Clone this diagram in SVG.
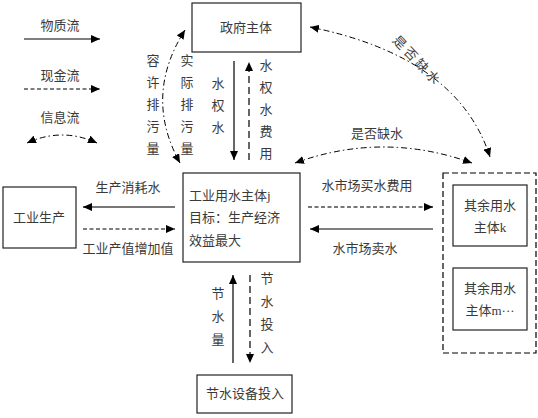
<svg xmlns="http://www.w3.org/2000/svg" width="538" height="418" viewBox="0 0 538 418">
<defs>
<marker id="ah" markerUnits="userSpaceOnUse" markerWidth="10" markerHeight="8" refX="9" refY="4" orient="auto-start-reverse">
<path d="M0,0 L9,4 L0,8 z" fill="#000"/>
</marker>
</defs>
<style>
text{font-family:"Liberation Serif","Noto Sans CJK SC",serif;font-size:13px;fill:#3a3a3a}
.c{text-anchor:middle}
.box{fill:#fff;stroke:#222;stroke-width:1.2}
.s{fill:none;stroke:#000;stroke-width:1.2}
.g{fill:none;stroke:#777;stroke-width:2}
.d{fill:none;stroke:#000;stroke-width:1.2;stroke-dasharray:4 2.5}
.gd{fill:none;stroke:#777;stroke-width:2;stroke-dasharray:4 2.5}
.ld{fill:none;stroke:#000;stroke-width:1.2;stroke-dasharray:7 4}
.dd{fill:none;stroke:#000;stroke-width:1;stroke-dasharray:6 3 1.5 3}
</style>
<rect width="538" height="418" fill="#fff"/>

<g id="legend">
<text class="c" x="60" y="30">物质流</text>
<text class="c" x="60" y="80">现金流</text>
<text class="c" x="60" y="122">信息流</text>
</g>

<g id="gov">
<rect class="box" x="192" y="3" width="109" height="49"/>
<text class="c" x="246" y="32">政府主体</text>
</g>

<g id="industry">
<rect class="box" x="183" y="173" width="117" height="89"/>
<text x="189" y="200">工业用水主体j</text>
<text x="189" y="222">目标：生产经济</text>
<text x="189" y="245">效益最大</text>
</g>

<g id="production">
<rect class="box" x="3" y="187" width="73" height="61"/>
<text class="c" x="39" y="222">工业生产</text>
</g>

<g id="others">
<rect x="443" y="173" width="93" height="180" fill="none" stroke="#000" stroke-width="1.2" stroke-dasharray="6 3"/>
<g id="k">
<rect class="box" x="453" y="185" width="74" height="61"/>
<text class="c" x="490" y="210">其余用水</text>
<text class="c" x="490" y="232">主体k</text>
</g>
<g id="m">
<rect class="box" x="453" y="268" width="74" height="62"/>
<text class="c" x="490" y="293">其余用水</text>
<text class="c" x="490" y="315">主体m···</text>
</g>
</g>

<g id="saving">
<rect class="box" x="197" y="375" width="95" height="38"/>
<text class="c" x="245" y="398">节水设备投入</text>
</g>

<g id="connectors">
<path class="s" d="M24,39 L100,39" marker-end="url(#ah)"/>
<path class="d" d="M24,89 L100,89" marker-end="url(#ah)"/>
<path class="dd" d="M27,143 Q62,127 97,143" marker-start="url(#ah)" marker-end="url(#ah)"/>

<path class="s" d="M234,61 L234,160" marker-end="url(#ah)"/>
<path class="ld" d="M249,160 L249,62" marker-end="url(#ah)"/>
<path class="dd" d="M185,30 Q143,96 180,163" marker-start="url(#ah)" marker-end="url(#ah)"/>
<path class="dd" d="M310,27 Q458,57 490,157" marker-start="url(#ah)" marker-end="url(#ah)"/>
<path class="dd" d="M295,163 Q383,131 472,163" marker-start="url(#ah)" marker-end="url(#ah)"/>

<path class="g" d="M175,207 L85,207"/>
<path class="s" d="M90,207 L83,207" marker-end="url(#ah)"/>
<path class="d" d="M83,229 L175,229" marker-end="url(#ah)"/>

<path class="gd" d="M308,207 L426,207"/>
<path class="s" d="M426,207 L433,207" marker-end="url(#ah)"/>
<path class="s" d="M433,229 L310,229" marker-end="url(#ah)"/>

<path class="s" d="M233,363 L233,275" marker-end="url(#ah)"/>
<path class="ld" d="M250,275 L250,363" marker-end="url(#ah)"/>
</g>

<g id="labels">
<text class="c" x="128" y="192">生产消耗水</text>
<text class="c" x="128" y="253">工业产值增加值</text>
<text class="c" x="367" y="190">水市场买水费用</text>
<text class="c" x="365" y="253">水市场卖水</text>
<text class="c" x="377" y="138">是否缺水</text>
<text class="c" x="0" y="0" letter-spacing="3" transform="translate(414,64) rotate(46)">是否缺水</text>
<text class="c"><tspan x="153" y="65">容</tspan><tspan x="153" y="87">许</tspan><tspan x="153" y="109">排</tspan><tspan x="153" y="131">污</tspan><tspan x="153" y="153">量</tspan></text>
<text class="c"><tspan x="187" y="65">实</tspan><tspan x="187" y="87">际</tspan><tspan x="187" y="109">排</tspan><tspan x="187" y="131">污</tspan><tspan x="187" y="153">量</tspan></text>
<text class="c"><tspan x="218" y="88">水</tspan><tspan x="218" y="110">权</tspan><tspan x="218" y="132">水</tspan></text>
<text class="c"><tspan x="266" y="70">水</tspan><tspan x="266" y="92">权</tspan><tspan x="266" y="114">水</tspan><tspan x="266" y="136">费</tspan><tspan x="266" y="158">用</tspan></text>
<text class="c"><tspan x="218" y="298">节</tspan><tspan x="218" y="321">水</tspan><tspan x="218" y="344">量</tspan></text>
<text class="c"><tspan x="267" y="283">节</tspan><tspan x="267" y="306">水</tspan><tspan x="267" y="329">投</tspan><tspan x="267" y="352">入</tspan></text>
</g>
</svg>
